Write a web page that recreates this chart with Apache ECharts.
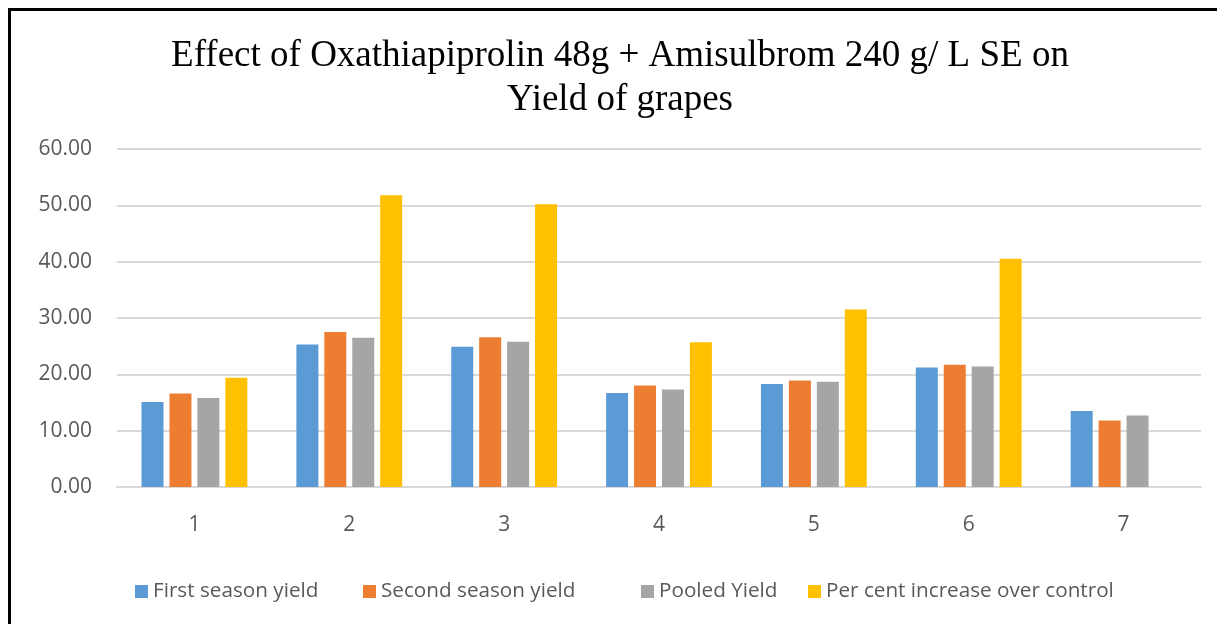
<!DOCTYPE html>
<html>
<head>
<meta charset="utf-8">
<script src="https://cdn.jsdelivr.net/npm/echarts@6/dist/echarts.min.js"></script>
<style>
html,body{margin:0;padding:0;width:1217px;height:624px;overflow:hidden;background:#fff;}
#chart{position:absolute;left:0;top:0;width:1217px;height:624px;}
#frame{position:absolute;left:8px;top:8px;width:1400px;height:800px;border:3px solid #000;pointer-events:none;box-sizing:border-box;}
</style>
</head>
<body>
<div id="chart"></div>
<div id="frame"></div>
<script>
var categories = ['1', '2', '3', '4', '5', '6', '7'];
var firstSeason = [15.1, 25.3, 24.9, 16.7, 18.3, 21.2, 13.5];
var secondSeason = [16.6, 27.5, 26.6, 18.0, 18.9, 21.7, 11.8];
var pooledYield = [15.8, 26.5, 25.8, 17.3, 18.7, 21.4, 12.7];
var percentIncrease = [19.4, 51.8, 50.2, 25.7, 31.5, 40.5, null];
var seriesNames = ['First season yield', 'Second season yield', 'Pooled Yield', 'Per cent increase over control'];
var colors = ['#5B9BD5', '#ED7D31', '#A5A5A5', '#FFC000'];
var legendLeft = [135, 363, 641, 808];

var chart = echarts.init(document.getElementById('chart'), null, {renderer: 'canvas'});
var font = '"Open Sans", sans-serif';
var dataSets = [firstSeason, secondSeason, pooledYield, percentIncrease];

var option = {
  animation: false,
  backgroundColor: 'transparent',
  title: {
    text: 'Effect of Oxathiapiprolin 48g + Amisulbrom 240 g/ L SE on\nYield of grapes',
    left: 615,
    textAlign: 'center',
    top: 29,
    textStyle: {
      fontFamily: '"Liberation Serif", "Times New Roman", serif',
      fontSize: 37,
      fontWeight: 'normal',
      color: '#000',
      lineHeight: 44
    }
  },
  legend: seriesNames.map(function (n, i) {
    return {
      data: [n],
      left: legendLeft[i],
      top: 581,
      padding: 0,
      itemWidth: 13,
      itemHeight: 13,
      itemGap: 0,
      icon: 'rect',
      textStyle: {fontFamily: font, fontSize: 20.7, color: '#595959'}
    };
  }),
  grid: {left: 117, right: 16, top: 149, bottom: 137, containLabel: false},
  xAxis: {
    type: 'category',
    data: categories,
    axisLine: {lineStyle: {color: '#D9D9D9', width: 2}},
    axisTick: {show: false},
    axisLabel: {fontFamily: font, fontSize: 21, color: '#595959', margin: 28}
  },
  yAxis: {
    type: 'value',
    min: 0,
    max: 60,
    interval: 10,
    axisLine: {show: false},
    axisTick: {show: false},
    axisLabel: {
      fontFamily: font, fontSize: 21, color: '#595959', margin: 25,
      formatter: function (v) { return v.toFixed(2); }
    },
    splitLine: {lineStyle: {color: '#D9D9D9', width: 2}}
  },
  series: seriesNames.map(function (n, i) {
    return {
      name: n,
      type: 'bar',
      data: dataSets[i],
      barWidth: 22,
      barGap: '27%',
      itemStyle: {color: colors[i]}
    };
  })
};
chart.setOption(option);
</script>
</body>
</html>
